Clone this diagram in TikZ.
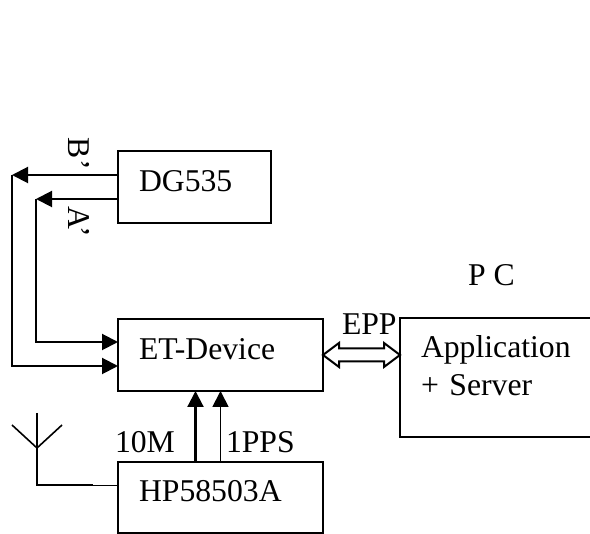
\documentclass[tikz,border=0pt]{standalone}
\usepackage{fontspec}
\setmainfont{Liberation Serif}
\usetikzlibrary{arrows.meta,calc}
\tikzset{
  box/.style={draw=black,line width=2pt,rectangle,anchor=north west,outer sep=0pt,inner xsep=21pt,inner ysep=0pt,align=left,font=\fontsize{31.7}{37}\selectfont},
  lbl/.style={inner sep=0pt,outer sep=0pt,anchor=base west,font=\fontsize{31.7}{37}\selectfont},
  wire/.style={line width=2pt,black},
  head/.style={wire,-{Triangle[length=16pt,width=16pt]}},
  dbl/.style={line width=2pt,draw=black,fill=white,line join=miter}
}
\begin{document}
\begin{tikzpicture}[x=1pt,y=-1pt]
\useasboundingbox (0,0) rectangle (590,534);
\clip (0,0) rectangle (590,534);
\node[box,text width=111pt,text height=41pt,text depth=31pt] (dg) at (118,151) {DG535};
\node[box,text width=163pt,text height=41pt,text depth=31pt] (et) at (118,319) {ET-Device};
\node[box,text width=163pt,text height=40pt,text depth=31pt] (hp) at (118,462) {HP58503A};
\node[box,text width=158pt,text height=40pt,text depth=79pt] (app) at (400,318) {Application\\[0.3pt]+ Server};
\node[lbl] (pc) at (468,286) {P C};
\node[lbl] (epp) at (342,335) {EPP};
\node[lbl] (tenm) at (115,453) {10M};
\node[lbl] (pps) at (226,453) {1PPS};
\node[lbl,rotate=-90] (bl) at (68,138) {B’};
\node[lbl,rotate=-90] (al) at (68,207) {A’};
\coordinate (bc) at (12,175);
\coordinate (ac) at (36,199);
\coordinate (abot) at (36,342);
\coordinate (bbot) at (12,366);
\draw[head] ([yshift=12pt]dg.west) -- (bc);
\draw[head] ([yshift=-12pt]dg.west) -- (ac);
\draw[head] (bc) -- (bbot) -- ([yshift=-11pt]et.west);
\draw[head] (ac) -- (abot) -- ([yshift=13pt]et.west);
\draw[head,line width=2.2pt] ([xshift=-25pt]hp.north) -- ([xshift=-25pt]et.south);
\draw[head,line width=1.8pt] (hp.north) -- (et.south);
% antenna
\coordinate (atop) at (37,413);
\coordinate (aj) at (37,448);
\coordinate (al1) at (12,425);
\coordinate (ar1) at (62,425);
\coordinate (afoot) at (37,485);
\coordinate (amid) at (93,485);
\draw[wire,line width=1.6pt] (atop) -- (afoot) -- (amid);
\draw[wire,line width=1.6pt] (al1) -- (aj) -- (ar1);
\draw[black,line width=0.8pt] (amid) -- ([yshift=12.5pt]hp.west);
% EPP double arrow
\coordinate (dl) at (et.east);
\coordinate (dr) at (app.west|-et.east);
\draw[dbl] (dl) -- ($(dl)+(16,-12)$) -- ($(dl)+(16,-6.5)$) -- ($(dr)+(-16,-6.5)$) -- ($(dr)+(-16,-12)$) -- (dr) -- ($(dr)+(-16,12)$) -- ($(dr)+(-16,6.5)$) -- ($(dl)+(16,6.5)$) -- ($(dl)+(16,12)$) -- cycle;
\end{tikzpicture}
\end{document}
